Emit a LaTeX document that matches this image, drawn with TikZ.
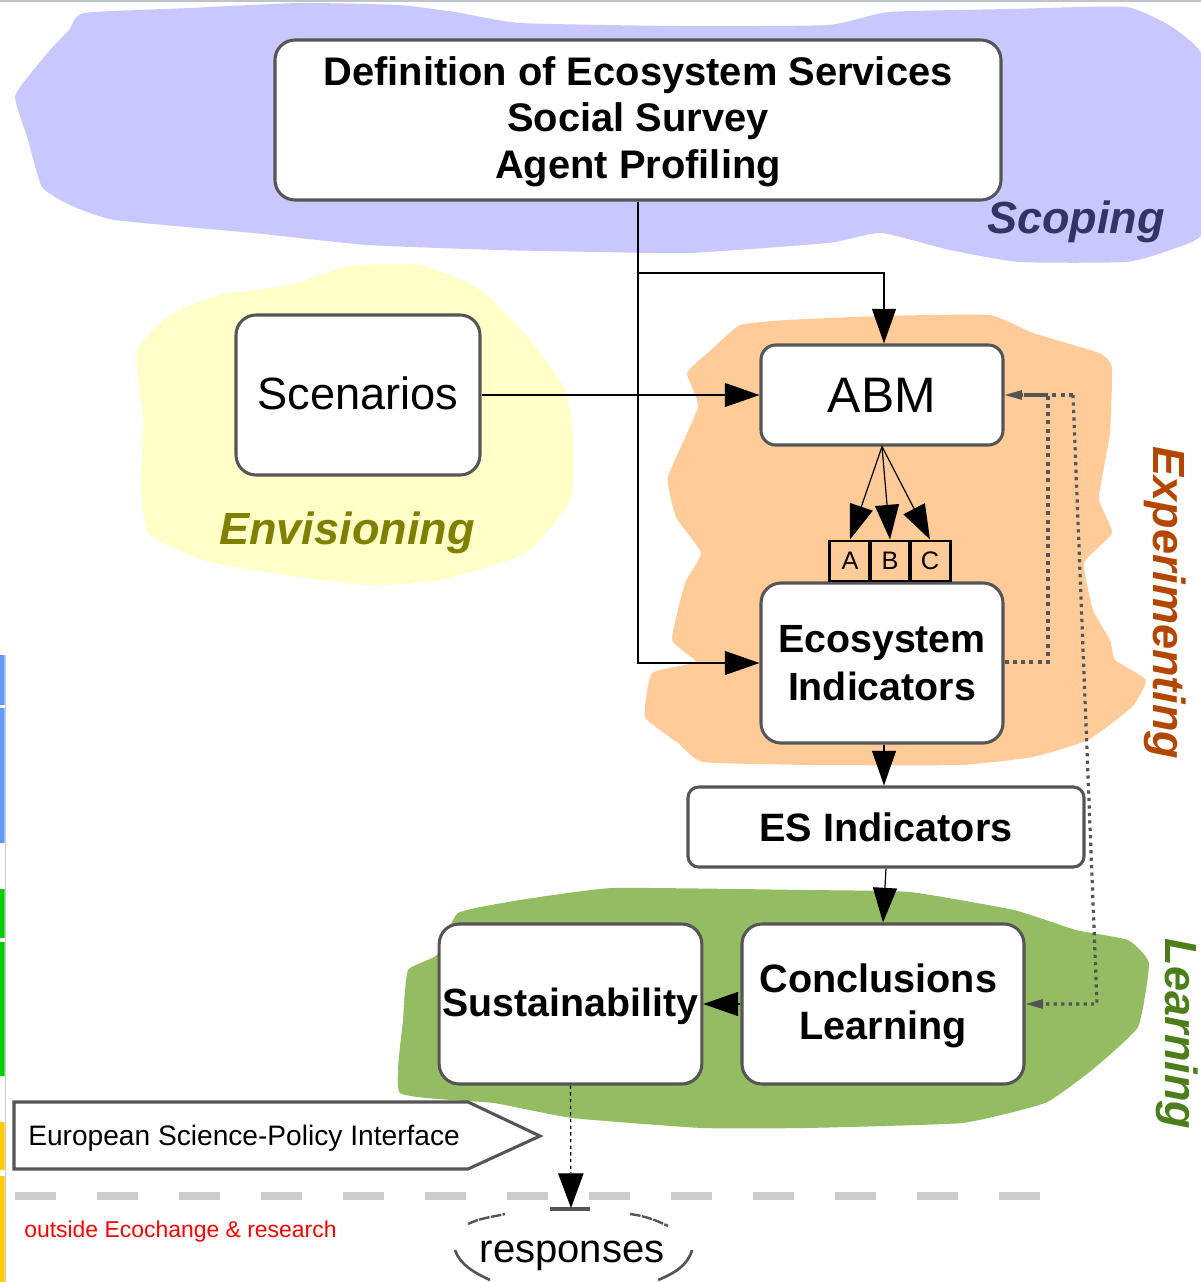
\documentclass[tikz,border=0pt]{standalone}
\usepackage{fontspec}
\setmainfont{Liberation Sans}
\usetikzlibrary{arrows.meta}
\definecolor{edgegrey}{HTML}{555555}
\newcommand{\pxfont}[1]{\fontsize{#1}{#1}\selectfont}
\tikzset{
  x=0.75pt,y=-0.75pt,
  card/.style={draw=edgegrey,line width=2.3pt,fill=white,rounded corners=15pt,align=center,inner sep=0pt,text=black},
  mini/.style={draw=black,line width=2.2pt,minimum width=30.5pt,minimum height=30pt,inner sep=0pt,font=\pxfont{19}},
  flow/.style={line width=0.9pt,-{Triangle[length=26pt,width=18pt]}},
  dotline/.style={draw=edgegrey,line width=3pt,dash pattern=on 3pt off 3.2pt},
  dotthin/.style={draw=edgegrey,line width=2.4pt,dash pattern=on 2.4pt off 3.2pt},
  smalltip/.style={-{Triangle[length=13pt,width=7pt]}},
  lab/.style={font=\bfseries\itshape\pxfont{33.8},inner sep=0pt},
}
\begin{document}
\begin{tikzpicture}
\useasboundingbox (0,0) rectangle (1201,1282);
\fill[white] (0,0) rectangle (1201,1282);
% left colour bars
\draw[gray!40,line width=1.2pt] (5.5,655) -- (5.5,1282);
\fill[fill={rgb,255:red,102;green,153;blue,255}] (0,655) rectangle (4.5,705) (0,708) rectangle (4.5,843);
\fill[fill={rgb,255:red,0;green,204;blue,0}] (0,889) rectangle (4.5,938) (0,942) rectangle (4.5,1076);
\fill[fill={rgb,255:red,255;green,204;blue,0}] (0,1122) rectangle (4.5,1170) (0,1176) rectangle (4.5,1282);
% background blobs
\fill[fill={rgb,255:red,200;green,200;blue,255}] plot[smooth cycle,tension=0.3] coordinates {(84,13)(190,8)(299,3)(398,5)(455,12)(521,23)(680,26)(828,25)(889,12)(1010,9)(1126,7)(1172,27)(1203,57)(1203,150)(1203,233)(1170,250)(1126,262)(1019,262)(950,250)(881,233)(828,243)(690,253)(600,252)(498,250)(368,245)(253,233)(115,220)(70,205)(42,187)(28,140)(15,97)(31,73)(50,50)(69,30)};
\fill[fill={rgb,255:red,255;green,255;blue,200}] plot[smooth cycle,tension=0.35] coordinates {(137,352)(170,315)(220,295)(290,285)(350,266)(420,265)(480,290)(530,340)(565,390)(573,440)(570,500)(525,553)(440,580)(370,585)(300,577)(210,562)(150,535)(141,490)(143,420)};
\fill[fill={rgb,255:red,255;green,204;blue,153}] plot[smooth cycle,tension=0.25] coordinates {(740,325)(787,320)(880,316)(989,315)(1033,333)(1099,353)(1112,367)(1110,433)(1104,467)(1099,500)(1112,533)(1084,563)(1093,610)(1110,640)(1115,660)(1146,680)(1132,707)(1088,740)(1033,757)(960,765)(813,765)(703,762)(678,743)(645,717)(652,673)(696,662)(672,640)(685,583)(701,553)(676,517)(668,477)(698,407)(687,373)(711,350)};
\fill[fill={rgb,255:red,147;green,188;blue,99}] plot[smooth cycle,tension=0.25] coordinates {(458,913)(520,900)(613,888)(806,890)(910,892)(1014,910)(1076,930)(1128,940)(1149,963)(1138,1027)(1092,1070)(1045,1103)(962,1123)(806,1128)(702,1128)(572,1118)(494,1103)(400,1093)(403,1020)(408,970)(437,955)};
% top rule
\draw[draw={rgb,255:red,192;green,196;blue,200},line width=1.5pt] (0,1) -- (1201,1);
% dashed boundary
\draw[draw={rgb,255:red,204;green,204;blue,204},line width=6pt,dash pattern=on 30.75pt off 30.75pt] (15,1196) -- (1040,1196);
% main boxes
\node[card,font=\bfseries\pxfont{29.9},minimum width=544.5pt,minimum height=120pt] (top) at (638,120) {\rule{0pt}{24pt}Definition of Ecosystem Services\\[5pt]Social Survey\\[5pt]Agent Profiling};
\node[card,minimum width=183pt,minimum height=120pt,font=\pxfont{33.9}] (scen) at (358,395) {\raisebox{1.5pt}[\height][\depth]{Scenarios}};
\node[card,minimum width=181.5pt,minimum height=75pt,rounded corners=11pt,font=\pxfont{37.4}] (abm) at (882,395) {ABM};
\node[card,minimum width=181.5pt,minimum height=120pt,font=\bfseries\pxfont{29.5}] (eco) at (882,663) {Ecosystem\\[6pt]Indicators};
\node[card,minimum width=297pt,minimum height=60pt,rounded corners=8pt,font=\bfseries\pxfont{29.7}] (es) at (886,827) {ES Indicators};
\node[card,minimum width=197pt,minimum height=120pt,font=\bfseries\pxfont{29.5}] (sust) at (570.5,1004) {\raisebox{-1.5pt}[\height][\depth]{Sustainability}};
\node[card,minimum width=211.5pt,minimum height=120pt,font=\bfseries\pxfont{29.7}] (conc) at (883,1004) {\raisebox{-1.5pt}[\height][\depth]{Conclusions\kern7pt}\\[6pt]\raisebox{-1.5pt}[\height][\depth]{Learning}};
% A B C
\node[mini] (A) at (850,561) {A};
\node[mini] (B) at (890,561) {B};
\node[mini] (C) at (930,561) {C};
% pentagon
\draw[draw=edgegrey,line width=2.3pt,fill=white] (14,1102) -- (468,1102) -- (540,1136) -- (468,1169) -- (14,1169) -- cycle;
\node[anchor=west,inner sep=0pt,font=\pxfont{21.1}] (esp) at (28,1138) {European Science-Policy Interface};
\node[anchor=west,inner sep=0pt,text=red,font=\pxfont{17.2}] (out) at (24,1232) {outside Ecochange \& research};
% responses
\node[inner sep=0pt,font=\pxfont{30}] (resp) at (572,1256) {responses};
\coordinate (tbar) at (571,1208);
\draw[draw=edgegrey,line width=2.4pt] (550,1209) -- (590,1209);
\draw[draw=edgegrey,line width=1.8pt,dash pattern=on 8pt off 1pt] (468,1224) .. controls (480,1218) and (492,1217) .. (505,1214);
\draw[draw=edgegrey,line width=1.8pt,dash pattern=on 8pt off 1pt] (630,1214) .. controls (645,1216) and (656,1220) .. (668,1226);
\draw[draw=edgegrey,line width=2pt] (455,1250) .. controls (460,1265) and (475,1273) .. (490,1280);
\draw[draw=edgegrey,line width=2pt] (658,1280) .. controls (675,1273) and (688,1265) .. (692,1250);
% connectors
\coordinate (tjoin) at (639,273);
\coordinate (abmtop) at ([xshift=1.5pt]abm.north);
\coordinate (ecobot) at ([xshift=1.5pt]eco.south);
\draw[flow] (top.south) |- (eco.west);
\draw[flow] (tjoin) -| (abmtop);
\draw[flow] (scen.east) -- (abm.west);
\draw[flow] (abm.south) -- (A.north);
\draw[flow] (abm.south) -- (B.north);
\draw[flow] (abm.south) -- (C.north);
\draw[flow] (ecobot) -- (ecobot |- es.north);
\draw[flow] (es.south) -- (conc.north);
\draw[flow] (conc.west) -- (sust.east);
\draw[line width=0.9pt,dash pattern=on 2.5pt off 2.5pt,-{Triangle[length=26pt,width=19pt]}] (sust.south) -- (tbar);
\coordinate (ra) at (1048,662);
\coordinate (rb) at (1073,395);
\coordinate (rc) at (1097,1004);
\coordinate (rd) at (1022,395);
\coordinate (re) at (1042,1004);
\draw[dotline] (eco.east |- ra) -- (ra) |- (rd);
\draw[dotline] (rb) -- (rd);
\draw[draw=edgegrey,line width=1.2pt,smalltip] (rd) -- (abm.east);
\draw[dotthin] (rb) -- (rc) -- (re);
\draw[draw=edgegrey,line width=1.2pt,smalltip] (re) -- (conc.east);
% phase labels
\node[lab,text={rgb,255:red,51;green,51;blue,102}] (scop) at (1076,222) {Scoping};
\node[lab,text={rgb,255:red,128;green,128;blue,0}] (envi) at (347,533) {Envisioning};
\node[lab,rotate=-90,text={rgb,255:red,179;green,71;blue,0}] (expe) at (1165,603) {Experimenting};
\node[lab,rotate=-90,text={rgb,255:red,76;green,127;blue,28}] (lear) at (1177,1034) {Learning};
\end{tikzpicture}
\end{document}
